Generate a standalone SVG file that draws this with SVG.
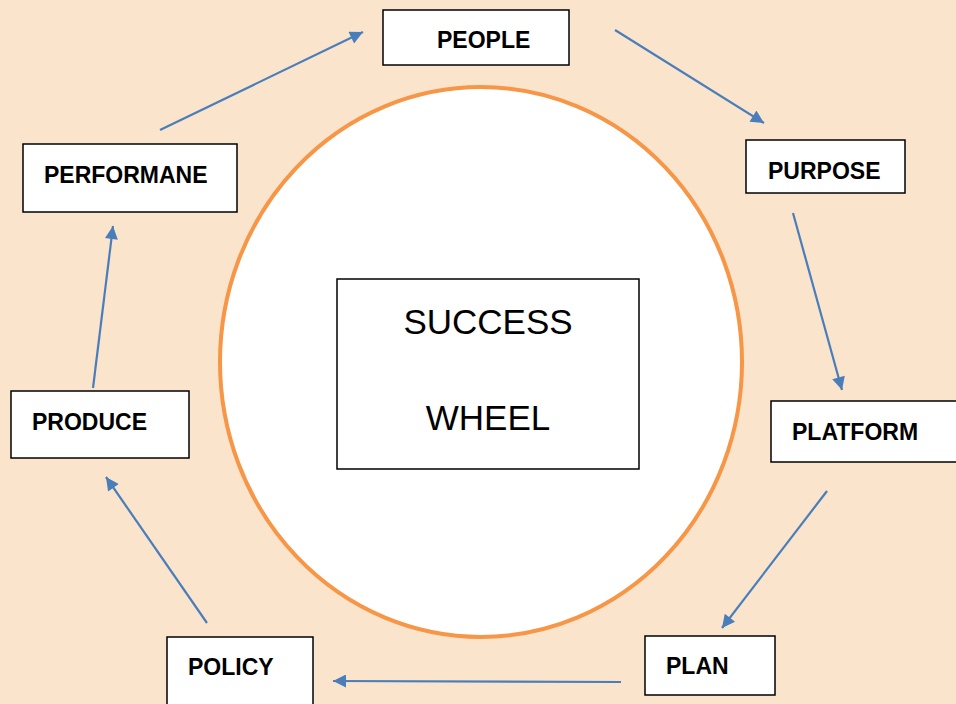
<svg xmlns="http://www.w3.org/2000/svg" width="956" height="704" viewBox="0 0 956 704">
  <defs>
    <marker id="arrow" viewBox="0 0 10 10" refX="10" refY="5" markerWidth="17" markerHeight="13" markerUnits="userSpaceOnUse" orient="auto">
      <path d="M0,0 L10,5 L0,10 z" fill="#4A7EBB"/>
    </marker>
    <style>
      .box { fill: #FFFFFF; stroke: #000000; stroke-width: 1.5; }
      .label { font-family: "Liberation Sans", Arial, sans-serif; font-weight: bold; font-size: 23px; fill: #000000; }
      .title { font-family: "Liberation Sans", Arial, sans-serif; font-size: 35px; fill: #000000; text-anchor: middle; }
      .conn { stroke: #4A7EBB; stroke-width: 2.2; fill: none; marker-end: url(#arrow); }
    </style>
  </defs>

  <!-- backdrop -->
  <rect x="0" y="0" width="956" height="704" fill="#FBE4CC"/>

  <!-- wheel rim -->
  <ellipse cx="481" cy="362" rx="261" ry="275" fill="#FFFFFF" stroke="#F79646" stroke-width="4"/>

  <g id="center">
    <rect class="box" x="337" y="279" width="302" height="190"/>
    <text class="title" x="488" y="334">SUCCESS</text>
    <text class="title" x="488" y="430">WHEEL</text>
  </g>

  <g id="people">
    <rect class="box" x="383" y="10" width="186" height="55"/>
    <text class="label" x="437" y="48">PEOPLE</text>
  </g>

  <g id="purpose">
    <rect class="box" x="746" y="140" width="159" height="53"/>
    <text class="label" x="768" y="179">PURPOSE</text>
  </g>

  <g id="platform">
    <rect class="box" x="771" y="401" width="190" height="61"/>
    <text class="label" x="792" y="440">PLATFORM</text>
  </g>

  <g id="plan">
    <rect class="box" x="645" y="636" width="130" height="59"/>
    <text class="label" x="666" y="674">PLAN</text>
  </g>

  <g id="policy">
    <rect class="box" x="167" y="637" width="146" height="75"/>
    <text class="label" x="188" y="675">POLICY</text>
  </g>

  <g id="produce">
    <rect class="box" x="11" y="391" width="178" height="67"/>
    <text class="label" x="32" y="430">PRODUCE</text>
  </g>

  <g id="performane">
    <rect class="box" x="23" y="144" width="214" height="68"/>
    <text class="label" x="44" y="183">PERFORMANE</text>
  </g>

  <g id="connectors">
    <line class="conn" x1="615" y1="30" x2="764" y2="123"/>
    <line class="conn" x1="793" y1="213" x2="842" y2="390"/>
    <line class="conn" x1="827" y1="491" x2="722" y2="628"/>
    <line class="conn" x1="621" y1="682" x2="333" y2="681"/>
    <line class="conn" x1="207" y1="623" x2="106" y2="477"/>
    <line class="conn" x1="93" y1="388" x2="113" y2="226"/>
    <line class="conn" x1="160" y1="130" x2="363" y2="32"/>
  </g>
</svg>
